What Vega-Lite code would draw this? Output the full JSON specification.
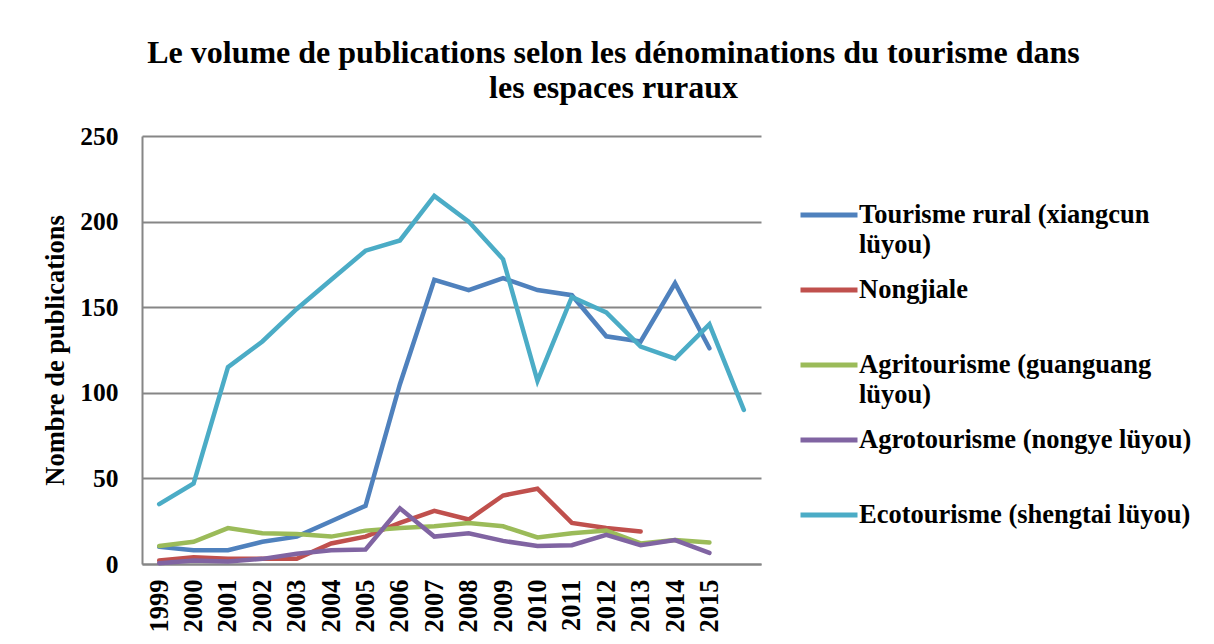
{
  "$schema": "https://vega.github.io/schema/vega-lite/v6.json",
  "width": 619,
  "height": 428,
  "autosize": {"type": "none"},
  "padding": {"left": 142, "top": 136, "right": 453, "bottom": 80},
  "background": "white",
  "config": {"view": {"stroke": null}, "font": "Times New Roman, Liberation Serif, serif"},
  "title": {
    "text": ["Le volume de publications selon les dénominations du tourisme dans", "les espaces ruraux"],
    "font": "Times New Roman, Liberation Serif, serif",
    "fontSize": 32,
    "fontWeight": "bold",
    "color": "black",
    "anchor": "middle",
    "dx": 162,
    "offset": 19,
    "lineHeight": 35
  },
  "data": {
    "values": [
      {"year": "1999", "serie": "Tourisme rural (xiangcun lüyou)", "n": 10},
      {"year": "2000", "serie": "Tourisme rural (xiangcun lüyou)", "n": 8},
      {"year": "2001", "serie": "Tourisme rural (xiangcun lüyou)", "n": 8},
      {"year": "2002", "serie": "Tourisme rural (xiangcun lüyou)", "n": 13},
      {"year": "2003", "serie": "Tourisme rural (xiangcun lüyou)", "n": 16},
      {"year": "2004", "serie": "Tourisme rural (xiangcun lüyou)", "n": 25},
      {"year": "2005", "serie": "Tourisme rural (xiangcun lüyou)", "n": 34},
      {"year": "2006", "serie": "Tourisme rural (xiangcun lüyou)", "n": 105},
      {"year": "2007", "serie": "Tourisme rural (xiangcun lüyou)", "n": 166},
      {"year": "2008", "serie": "Tourisme rural (xiangcun lüyou)", "n": 160},
      {"year": "2009", "serie": "Tourisme rural (xiangcun lüyou)", "n": 167},
      {"year": "2010", "serie": "Tourisme rural (xiangcun lüyou)", "n": 160},
      {"year": "2011", "serie": "Tourisme rural (xiangcun lüyou)", "n": 157},
      {"year": "2012", "serie": "Tourisme rural (xiangcun lüyou)", "n": 133},
      {"year": "2013", "serie": "Tourisme rural (xiangcun lüyou)", "n": 130},
      {"year": "2014", "serie": "Tourisme rural (xiangcun lüyou)", "n": 164},
      {"year": "2015", "serie": "Tourisme rural (xiangcun lüyou)", "n": 126},
      {"year": "1999", "serie": "Nongjiale", "n": 2},
      {"year": "2000", "serie": "Nongjiale", "n": 4},
      {"year": "2001", "serie": "Nongjiale", "n": 3},
      {"year": "2002", "serie": "Nongjiale", "n": 3},
      {"year": "2003", "serie": "Nongjiale", "n": 3},
      {"year": "2004", "serie": "Nongjiale", "n": 12},
      {"year": "2005", "serie": "Nongjiale", "n": 16},
      {"year": "2006", "serie": "Nongjiale", "n": 24},
      {"year": "2007", "serie": "Nongjiale", "n": 31},
      {"year": "2008", "serie": "Nongjiale", "n": 26},
      {"year": "2009", "serie": "Nongjiale", "n": 40},
      {"year": "2010", "serie": "Nongjiale", "n": 44},
      {"year": "2011", "serie": "Nongjiale", "n": 24},
      {"year": "2012", "serie": "Nongjiale", "n": 21},
      {"year": "2013", "serie": "Nongjiale", "n": 19},
      {"year": "1999", "serie": "Agritourisme (guanguang lüyou)", "n": 10.5},
      {"year": "2000", "serie": "Agritourisme (guanguang lüyou)", "n": 13},
      {"year": "2001", "serie": "Agritourisme (guanguang lüyou)", "n": 21},
      {"year": "2002", "serie": "Agritourisme (guanguang lüyou)", "n": 18},
      {"year": "2003", "serie": "Agritourisme (guanguang lüyou)", "n": 17.5},
      {"year": "2004", "serie": "Agritourisme (guanguang lüyou)", "n": 16},
      {"year": "2005", "serie": "Agritourisme (guanguang lüyou)", "n": 19.5},
      {"year": "2006", "serie": "Agritourisme (guanguang lüyou)", "n": 21},
      {"year": "2007", "serie": "Agritourisme (guanguang lüyou)", "n": 22},
      {"year": "2008", "serie": "Agritourisme (guanguang lüyou)", "n": 24},
      {"year": "2009", "serie": "Agritourisme (guanguang lüyou)", "n": 22},
      {"year": "2010", "serie": "Agritourisme (guanguang lüyou)", "n": 15.5},
      {"year": "2011", "serie": "Agritourisme (guanguang lüyou)", "n": 18},
      {"year": "2012", "serie": "Agritourisme (guanguang lüyou)", "n": 19.5},
      {"year": "2013", "serie": "Agritourisme (guanguang lüyou)", "n": 12},
      {"year": "2014", "serie": "Agritourisme (guanguang lüyou)", "n": 14},
      {"year": "2015", "serie": "Agritourisme (guanguang lüyou)", "n": 12.5},
      {"year": "1999", "serie": "Agrotourisme (nongye lüyou)", "n": 0.5},
      {"year": "2000", "serie": "Agrotourisme (nongye lüyou)", "n": 2},
      {"year": "2001", "serie": "Agrotourisme (nongye lüyou)", "n": 1.5},
      {"year": "2002", "serie": "Agrotourisme (nongye lüyou)", "n": 3},
      {"year": "2003", "serie": "Agrotourisme (nongye lüyou)", "n": 6},
      {"year": "2004", "serie": "Agrotourisme (nongye lüyou)", "n": 8},
      {"year": "2005", "serie": "Agrotourisme (nongye lüyou)", "n": 8.5},
      {"year": "2006", "serie": "Agrotourisme (nongye lüyou)", "n": 32.5},
      {"year": "2007", "serie": "Agrotourisme (nongye lüyou)", "n": 16},
      {"year": "2008", "serie": "Agrotourisme (nongye lüyou)", "n": 18},
      {"year": "2009", "serie": "Agrotourisme (nongye lüyou)", "n": 13.5},
      {"year": "2010", "serie": "Agrotourisme (nongye lüyou)", "n": 10.5},
      {"year": "2011", "serie": "Agrotourisme (nongye lüyou)", "n": 11},
      {"year": "2012", "serie": "Agrotourisme (nongye lüyou)", "n": 17},
      {"year": "2013", "serie": "Agrotourisme (nongye lüyou)", "n": 11},
      {"year": "2014", "serie": "Agrotourisme (nongye lüyou)", "n": 14},
      {"year": "2015", "serie": "Agrotourisme (nongye lüyou)", "n": 6.5},
      {"year": "1999", "serie": "Ecotourisme (shengtai lüyou)", "n": 35},
      {"year": "2000", "serie": "Ecotourisme (shengtai lüyou)", "n": 47},
      {"year": "2001", "serie": "Ecotourisme (shengtai lüyou)", "n": 115},
      {"year": "2002", "serie": "Ecotourisme (shengtai lüyou)", "n": 130},
      {"year": "2003", "serie": "Ecotourisme (shengtai lüyou)", "n": 149},
      {"year": "2004", "serie": "Ecotourisme (shengtai lüyou)", "n": 166},
      {"year": "2005", "serie": "Ecotourisme (shengtai lüyou)", "n": 183},
      {"year": "2006", "serie": "Ecotourisme (shengtai lüyou)", "n": 189},
      {"year": "2007", "serie": "Ecotourisme (shengtai lüyou)", "n": 215},
      {"year": "2008", "serie": "Ecotourisme (shengtai lüyou)", "n": 200},
      {"year": "2009", "serie": "Ecotourisme (shengtai lüyou)", "n": 178},
      {"year": "2010", "serie": "Ecotourisme (shengtai lüyou)", "n": 107},
      {"year": "2011", "serie": "Ecotourisme (shengtai lüyou)", "n": 156},
      {"year": "2012", "serie": "Ecotourisme (shengtai lüyou)", "n": 147},
      {"year": "2013", "serie": "Ecotourisme (shengtai lüyou)", "n": 127},
      {"year": "2014", "serie": "Ecotourisme (shengtai lüyou)", "n": 120},
      {"year": "2015", "serie": "Ecotourisme (shengtai lüyou)", "n": 140},
      {"year": "2016", "serie": "Ecotourisme (shengtai lüyou)", "n": 90}
    ]
  },
  "mark": {"type": "line", "strokeWidth": 4.5, "strokeCap": "round", "strokeJoin": "miter"},
  "encoding": {
    "x": {
      "field": "year",
      "type": "ordinal",
      "scale": {"type": "point", "padding": 0.5, "domain": ["1999","2000","2001","2002","2003","2004","2005","2006","2007","2008","2009","2010","2011","2012","2013","2014","2015","2016"]},
      "axis": {
        "title": null,
        "labelAngle": -90,
        "labelExpr": "datum.value == '2016' ? '' : datum.label",
        "labelFont": "Times New Roman, Liberation Serif, serif",
        "labelFontSize": 26.5,
        "labelFontWeight": "bold",
        "labelColor": "black",
        "ticks": false,
        "labelPadding": 15,
        "domainColor": "#868686",
        "domainWidth": 2,
        "grid": false
      }
    },
    "y": {
      "field": "n",
      "type": "quantitative",
      "scale": {"domain": [0, 250]},
      "axis": {
        "title": "Nombre de publications",
        "values": [0, 50, 100, 150, 200, 250],
        "labelFont": "Times New Roman, Liberation Serif, serif",
        "labelFontSize": 25.5,
        "labelFontWeight": "bold",
        "labelColor": "black",
        "labelPadding": 24,
        "ticks": false,
        "domainColor": "#868686",
        "domainWidth": 2,
        "gridColor": "#868686",
        "gridWidth": 2,
        "titleFont": "Times New Roman, Liberation Serif, serif",
        "titleFontSize": 26.5,
        "titleFontWeight": "bold",
        "titleColor": "black",
        "titlePadding": 10
      }
    },
    "color": {
      "field": "serie",
      "type": "nominal",
      "scale": {
        "domain": ["Tourisme rural (xiangcun lüyou)", "Nongjiale", "Agritourisme (guanguang lüyou)", "Agrotourisme (nongye lüyou)", "Ecotourisme (shengtai lüyou)"],
        "range": ["#4F81BD", "#C0504D", "#9BBB59", "#8064A2", "#4BACC6"]
      },
      "legend": {
        "title": null,
        "orient": "none",
        "legendX": 656,
        "legendY": 56,
        "padding": 0,
        "symbolType": "M-1,-0.28L1,-0.28",
        "symbolSize": 3249,
        "symbolStrokeWidth": 5,
        "labelFont": "Times New Roman, Liberation Serif, serif",
        "labelFontSize": 26.5,
        "labelFontWeight": "bold",
        "labelColor": "black",
        "labelBaseline": "alphabetic",
        "labelOffset": -1,
        "labelLimit": 450,
        "gridAlign": "all",
        "rowPadding": 8,
        "labelExpr": "datum.label == 'Tourisme rural (xiangcun lüyou)' ? ['Tourisme rural (xiangcun', 'lüyou)'] : datum.label == 'Agritourisme (guanguang lüyou)' ? ['Agritourisme (guanguang', 'lüyou)'] : datum.label",
        "encode": {"labels": {"update": {"lineHeight": {"value": 30}}}}
      }
    }
  }
}
